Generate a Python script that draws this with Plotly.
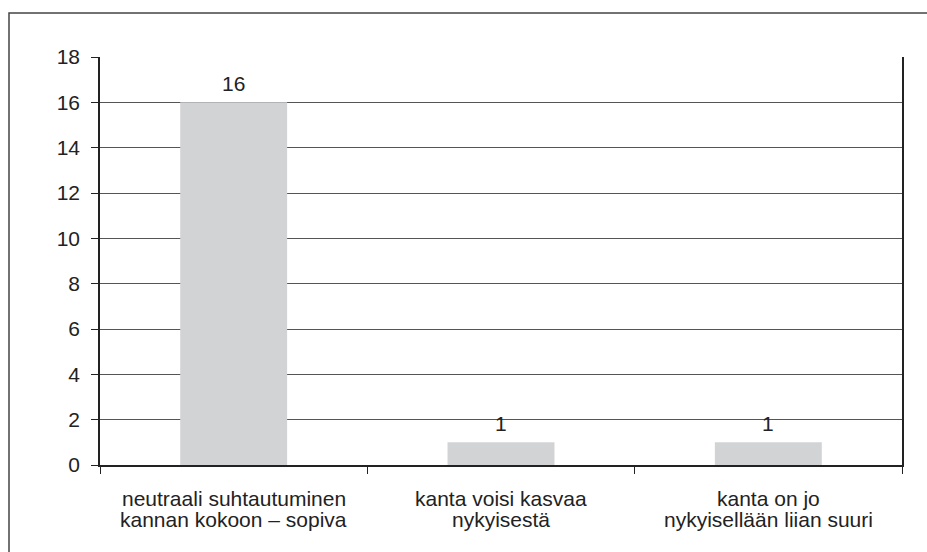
import plotly.graph_objects as go

kategoriat = [
    "neutraali suhtautuminen<br>kannan kokoon – sopiva",
    "kanta voisi kasvaa<br>nykyisestä",
    "kanta on jo<br>nykyisellään liian suuri",
]
vastaukset = [16, 1, 1]
y_ticks = list(range(0, 19, 2))

TEXT = "#222222"
FONT = "Liberation Sans, Arial"

fig = go.Figure(go.Bar(
    x=kategoriat,
    y=vastaukset,
    width=0.4,
    marker=dict(color="#d2d3d5", line=dict(width=0)),
    showlegend=False,
    hoverinfo="skip",
))

annot = []
# value labels above the bars
for kat, arvo in zip(kategoriat, vastaukset):
    annot.append(dict(
        x=kat, y=arvo, xref="x", yref="y",
        text=str(arvo), showarrow=False,
        xanchor="center", yanchor="bottom", yshift=5,
        font=dict(size=21, color=TEXT, family=FONT),
    ))
# category labels, one annotation per line (tighter line spacing than ticklabels)
for kat in kategoriat:
    for i, rivi in enumerate(kat.split("<br>")):
        annot.append(dict(
            x=kat, y=0, xref="x", yref="paper",
            text=rivi, showarrow=False,
            xanchor="center", yanchor="middle",
            yshift=-33 - 21.5 * i,
            font=dict(size=21, color=TEXT, family=FONT),
        ))

fig.update_layout(
    width=927,
    height=552,
    plot_bgcolor="white",
    paper_bgcolor="white",
    font=dict(family=FONT, size=21, color=TEXT),
    margin=dict(l=100, r=25, t=57, b=87),
    xaxis=dict(
        showgrid=False,
        showline=True,
        linecolor="#222222",
        linewidth=1.5,
        ticks="outside",
        tickson="boundaries",
        ticklen=7,
        tickcolor="#222222",
        tickwidth=1,
        showticklabels=False,
    ),
    yaxis=dict(
        range=[0, 18],
        tickvals=y_ticks,
        showgrid=True,
        gridcolor="#555555",
        gridwidth=1.4,
        showline=True,
        linecolor="#222222",
        linewidth=1.5,
        mirror=True,
        ticks="outside",
        ticklen=7,
        tickcolor="#222222",
        zeroline=False,
        ticklabelstandoff=7,
    ),
    annotations=annot,
    shapes=[dict(
        type="rect",
        xref="paper", yref="paper",
        x0=(9 - 100) / 802, x1=1.2,
        y0=-0.5, y1=1 + (57 - 13) / 408,
        line=dict(color="#444444", width=1.5),
        layer="above",
    )],
)

fig.write_html(
    "out.html",
    config={"displayModeBar": False},
    post_script="document.body.style.margin='0';",
)
